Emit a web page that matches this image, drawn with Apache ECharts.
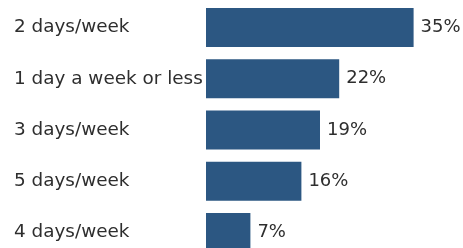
<!DOCTYPE html>
<html>
<head>
<meta charset="utf-8">
<script src="https://cdn.jsdelivr.net/npm/echarts@6/dist/echarts.min.js"></script>
<style>
  html, body { margin: 0; padding: 0; background: #fff; overflow: hidden; }
  #chart { width: 463px; height: 258px; }
</style>
</head>
<body>
<div id="chart"></div>
<script>
const categories = ['2 days/week', '1 day a week or less', '3 days/week', '5 days/week', '4 days/week']
const shares = [34.6, 22.2, 19.0, 15.9, 7.4]

const chart = echarts.init(document.getElementById('chart'))
chart.setOption({
  animation: false,
  grid: { left: 206, top: 2, width: 240, bottom: 0 },
  xAxis: {
    type: 'value',
    min: 0,
    max: 40,
    show: false
  },
  yAxis: {
    type: 'category',
    data: categories,
    inverse: true,
    axisLine: { show: false },
    axisTick: { show: false },
    axisLabel: {
      align: 'left',
      margin: 192,
      color: '#2e2e2e',
      fontSize: 18.4,
      fontFamily: 'DejaVu Sans'
    }
  },
  series: [{
    type: 'bar',
    data: shares,
    barWidth: 39,
    itemStyle: { color: '#2c5782' },
    label: {
      show: true,
      position: 'right',
      distance: 7,
      color: '#2e2e2e',
      fontSize: 18,
      fontFamily: 'DejaVu Sans',
      formatter: (p) => Math.round(p.value) + '%'
    }
  }]
})
</script>
</body>
</html>
